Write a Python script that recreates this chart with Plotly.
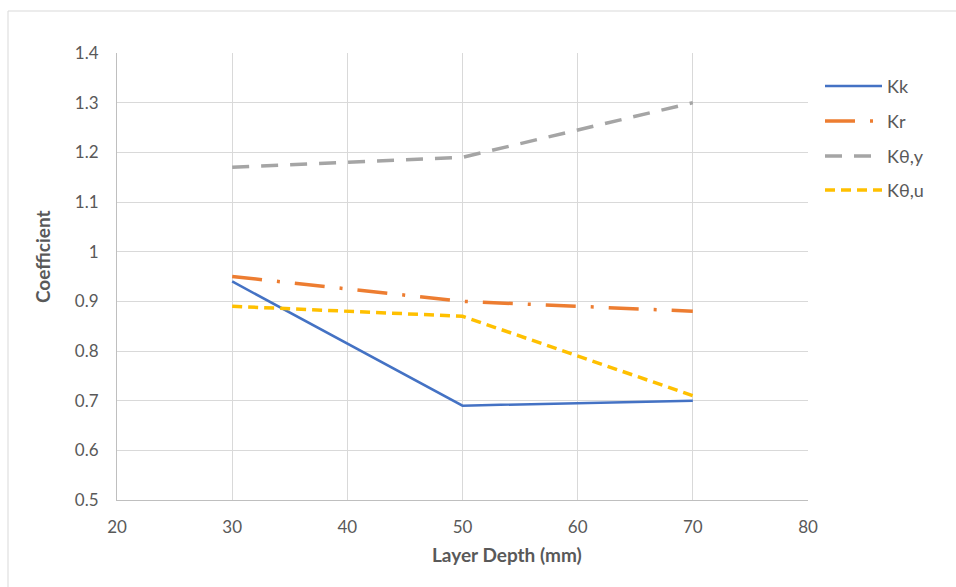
import plotly.graph_objects as go

depth = [30, 50, 70]
kk = [0.94, 0.69, 0.70]
kr = [0.95, 0.90, 0.88]
kty = [1.17, 1.19, 1.30]
ktu = [0.89, 0.87, 0.71]

names = ["Kk", "Kr", "Kθ,y", "Kθ,u"]
values = [kk, kr, kty, ktu]
colors = ["#4472C4", "#ED7D31", "#A5A5A5", "#FFC000"]
dashes = ["solid", "30px,15px,3px,15px", "17px,12px", "10px,6px"]
widths = [2.5, 3.5, 3.5, 3.5]

x_title = "Layer Depth (mm)"
y_title = "Coefficient"

L, R, T, B = 117, 808, 53, 500
W, H = 956, 587
pw, ph = R - L, B - T


def px(x):
    return (x - L) / pw


def py(y):
    return (B - y) / ph


fig = go.Figure()
for name, vals, color, dash, w in zip(names, values, colors, dashes, widths):
    fig.add_trace(go.Scatter(x=depth, y=vals, name=name, mode="lines",
                             showlegend=False,
                             line=dict(color=color, dash=dash, width=w)))

font = "Lato, Open Sans, sans-serif"
shapes = [dict(type="rect", xref="paper", yref="paper",
               x0=px(8), x1=1.5, y0=-0.5, y1=py(11),
               line=dict(color="#D9D9D9", width=1), layer="below")]
annotations = []
rows = [86, 121, 156, 190]
for name, color, dash, w, ry in zip(names, colors, dashes, widths, rows):
    shapes.append(dict(type="line", xref="paper", yref="paper",
                       x0=px(825), x1=px(882), y0=py(ry), y1=py(ry),
                       line=dict(color=color, dash=dash, width=w)))
    annotations.append(dict(text=name, xref="paper", yref="paper",
                            x=px(885), y=py(ry), xanchor="left", yanchor="middle",
                            showarrow=False,
                            font=dict(size=18, color="#595959", family=font)))

annotations.append(dict(text=f"<b>{x_title}</b>", xref="paper", yref="paper",
                        x=px(507), y=py(554), xanchor="center", yanchor="middle",
                        showarrow=False,
                        font=dict(size=19, color="#595959", family=font)))
annotations.append(dict(text=f"<b>{y_title}</b>", xref="paper", yref="paper",
                        x=px(42), y=py(257), xanchor="center", yanchor="middle",
                        textangle=-90, showarrow=False,
                        font=dict(size=19, color="#595959", family=font)))

fig.update_layout(
    width=W, height=H,
    margin=dict(l=L, r=W - R, t=T, b=H - B),
    paper_bgcolor="white", plot_bgcolor="white",
    font=dict(family=font, color="#595959", size=17),
    showlegend=False,
    xaxis=dict(range=[20, 80], dtick=10, tick0=20,
               showgrid=True, gridcolor="#D9D9D9", gridwidth=1,
               showline=True, linecolor="#BFBFBF", linewidth=1,
               zeroline=False, ticks="", ticklabelstandoff=12,
               tickfont=dict(size=17, color="#595959")),
    yaxis=dict(range=[0.5, 1.4], dtick=0.1, tick0=0.5,
               showgrid=True, gridcolor="#D9D9D9", gridwidth=1,
               showline=True, linecolor="#BFBFBF", linewidth=1,
               zeroline=False, ticks="", ticklabelstandoff=14,
               tickformat=".1~f",
               tickfont=dict(size=17, color="#595959")),
    shapes=shapes,
    annotations=annotations,
)
fig.write_html("out.html")
